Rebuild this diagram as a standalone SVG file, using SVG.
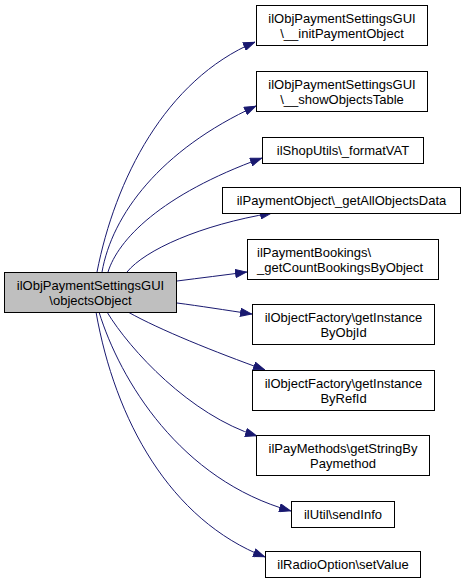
<svg xmlns="http://www.w3.org/2000/svg" width="465" height="583" viewBox="0 0 465 583">
<style>
.n rect{fill:#ffffff;stroke:#000000;stroke-width:1}
.n.main rect{fill:#bfbfbf}
.n text{font-family:"Liberation Sans",Arial,sans-serif;font-size:13px;fill:#000000}
.c{text-anchor:middle}
.e path{fill:none;stroke:#191970;stroke-width:1}
</style>
<defs>
<marker id="ah" viewBox="0 0 12 9" markerWidth="12" markerHeight="9" refX="12" refY="4.5" orient="auto" markerUnits="userSpaceOnUse">
<path d="M0.5,0.5 L11.5,4.5 L0.5,8.5 z" fill="#191970" stroke="#191970" stroke-width="1"/>
</marker>
</defs>
<rect width="465" height="583" fill="#ffffff"/>
<g id="edges" class="e">
<path marker-end="url(#ah)" d="M97,272 C115,180 165,80 255,42"/>
<path marker-end="url(#ah)" d="M102,272 C112,215 160,150 256,106"/>
<path marker-end="url(#ah)" d="M108,272 C118,240 160,195 262,158"/>
<path marker-end="url(#ah)" d="M127,272 C145,250 200,225 272,213"/>
<path marker-end="url(#ah)" d="M177,281 C200,278 225,275 247,272"/>
<path marker-end="url(#ah)" d="M177,303 C200,306 225,310 252,314"/>
<path marker-end="url(#ah)" d="M128,312 C160,330 215,352 265,370"/>
<path marker-end="url(#ah)" d="M107,312 C130,350 190,415 257,436"/>
<path marker-end="url(#ah)" d="M99,312 C120,380 180,480 291,511"/>
<path marker-end="url(#ah)" d="M96,312 C115,420 170,520 265,557"/>
</g>
<g id="node0" class="n main">
<rect x="4.5" y="272.5" width="172" height="40"/>
<text class="c" x="90.5" y="289.5">ilObjPaymentSettingsGUI</text>
<text class="c" x="90.5" y="304.5">\objectsObject</text>
</g>
<g id="node1" class="n">
<rect x="256.5" y="5.5" width="171" height="40"/>
<text class="c" x="342" y="22.5">ilObjPaymentSettingsGUI</text>
<text class="c" x="342" y="37.5">\__initPaymentObject</text>
</g>
<g id="node2" class="n">
<rect x="256.5" y="71.5" width="171" height="40"/>
<text class="c" x="342" y="88.5">ilObjPaymentSettingsGUI</text>
<text class="c" x="342" y="103.5">\__showObjectsTable</text>
</g>
<g id="node3" class="n">
<rect x="262.5" y="137.5" width="161" height="26"/>
<text class="c" x="343" y="155">ilShopUtils\_formatVAT</text>
</g>
<g id="node4" class="n">
<rect x="222.5" y="187.5" width="238" height="26"/>
<text class="c" x="341.5" y="205">ilPaymentObject\_getAllObjectsData</text>
</g>
<g id="node5" class="n">
<rect x="247.5" y="239.5" width="191" height="40"/>
<text x="257" y="256.5">ilPaymentBookings\</text>
<text x="257" y="271.5">_getCountBookingsByObject</text>
</g>
<g id="node6" class="n">
<rect x="252.5" y="304.5" width="182" height="40"/>
<text class="c" x="343.5" y="321.5">ilObjectFactory\getInstance</text>
<text class="c" x="343.5" y="336.5">ByObjId</text>
</g>
<g id="node7" class="n">
<rect x="252.5" y="370.5" width="182" height="40"/>
<text class="c" x="343.5" y="387.5">ilObjectFactory\getInstance</text>
<text class="c" x="343.5" y="402.5">ByRefId</text>
</g>
<g id="node8" class="n">
<rect x="256.5" y="435.5" width="173" height="40"/>
<text class="c" x="343" y="452.5">ilPayMethods\getStringBy</text>
<text class="c" x="343" y="467.5">Paymethod</text>
</g>
<g id="node9" class="n">
<rect x="291.5" y="501.5" width="103" height="26"/>
<text class="c" x="343" y="519">ilUtil\sendInfo</text>
</g>
<g id="node10" class="n">
<rect x="265.5" y="551.5" width="155" height="26"/>
<text class="c" x="343" y="569">ilRadioOption\setValue</text>
</g>
</svg>
